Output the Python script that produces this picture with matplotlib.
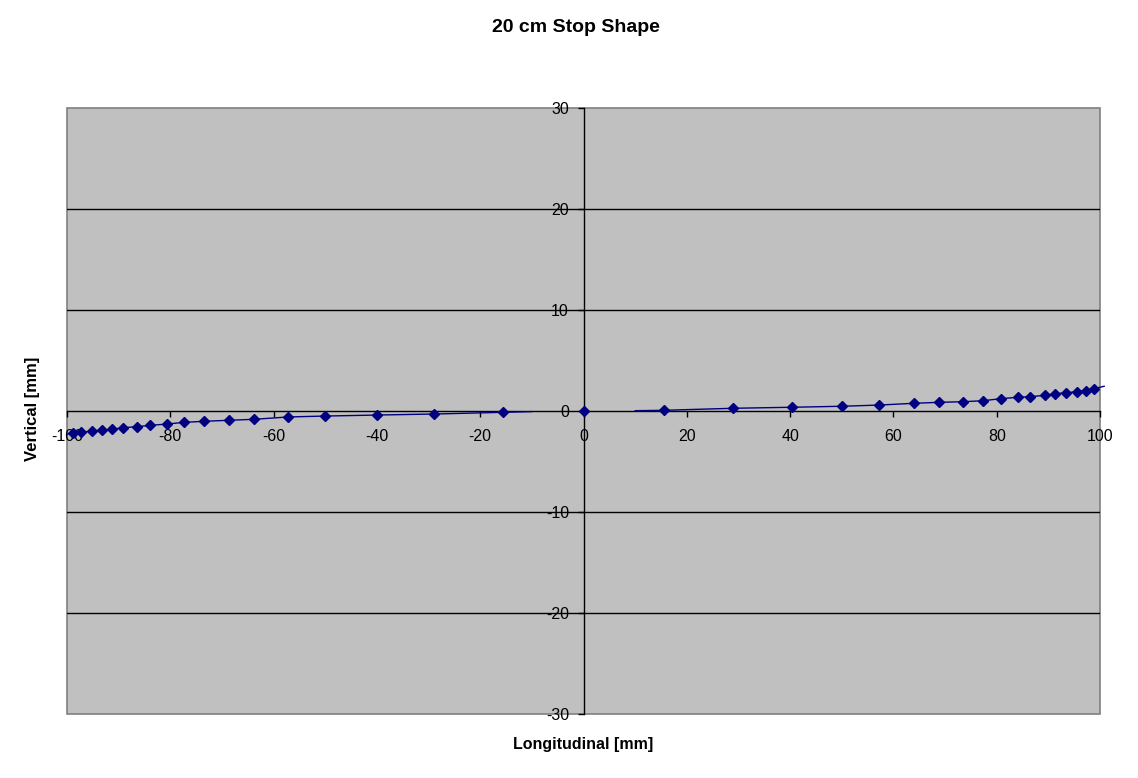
import numpy as np
import matplotlib
matplotlib.use("Agg")
import matplotlib.pyplot as plt
from matplotlib.patches import Rectangle

plt.rcParams['font.family'] = ['Liberation Sans', 'DejaVu Sans']

# Marker data (Longitudinal [mm], Vertical [mm])
marker_x = [-98.8, -97.2, -95.2, -93.3, -91.2, -89.1, -86.4, -83.9, -80.6, -77.3,
            -73.4, -68.7, -63.7, -57.2, -50.0, -40.0, -28.9, -15.5,
            0.0,
            15.6, 29.0, 40.3, 50.1, 57.3, 63.9, 68.9, 73.5, 77.4, 80.8,
            84.1, 86.5, 89.3, 91.3, 93.5, 95.5, 97.2, 98.9]
marker_y = [-2.21, -2.11, -1.98, -1.91, -1.81, -1.65, -1.55, -1.42, -1.29, -1.12,
            -1.02, -0.92, -0.82, -0.59, -0.50, -0.40, -0.30, -0.13,
            0.0,
            0.07, 0.27, 0.37, 0.47, 0.59, 0.76, 0.86, 0.92, 1.02, 1.22,
            1.36, 1.42, 1.55, 1.71, 1.81, 1.91, 2.01, 2.21]

# Shape line (two segments, gap around the centre)
line_left_x = [-100.0, -98.8, -97.2, -95.2, -93.3, -91.2, -89.1, -86.4, -83.9, -80.6,
               -77.3, -73.4, -68.7, -63.7, -57.2, -50.0, -40.0, -28.9, -15.5, -10.0]
line_left_y = [-2.30, -2.21, -2.11, -1.98, -1.91, -1.81, -1.65, -1.55, -1.42, -1.29,
               -1.12, -1.02, -0.92, -0.82, -0.59, -0.50, -0.40, -0.30, -0.13, -0.06]
line_right_x = [10.0, 15.6, 29.0, 40.3, 50.1, 57.3, 63.9, 68.9, 73.5, 77.4, 80.8,
                84.1, 86.5, 89.3, 91.3, 93.5, 95.5, 97.2, 98.9, 100.8]
line_right_y = [0.03, 0.07, 0.27, 0.37, 0.47, 0.59, 0.76, 0.86, 0.92, 1.02, 1.22,
                1.36, 1.42, 1.55, 1.71, 1.81, 1.91, 2.01, 2.21, 2.45]

x_ticks = [-100, -80, -60, -40, -20, 0, 20, 40, 60, 80, 100]
y_ticks = [-30, -20, -10, 0, 10, 20, 30]
grid_y = [-20, -10, 10, 20]

W, H = 1138, 778
fig = plt.figure(figsize=(W / 100, H / 100), dpi=100)
fig.patch.set_facecolor('white')
ax = fig.add_axes([67 / W, (H - 714) / H, 1033 / W, 606 / H])
ax.set_facecolor('#C0C0C0')
ax.set_xlim(-100, 100)
ax.set_ylim(-30, 30)

# horizontal gridlines
for yv in grid_y:
    ax.axhline(yv, color='black', lw=1.0, zorder=1)

# border of plot area
for s in ['top', 'right']:
    ax.spines[s].set_visible(False)
ax.spines['left'].set_position(('data', 0))
ax.spines['bottom'].set_position(('data', 0))
ax.spines['left'].set_color('black')
ax.spines['bottom'].set_color('black')
ax.spines['left'].set_linewidth(1.0)
ax.spines['bottom'].set_linewidth(1.0)
ax.add_patch(Rectangle((0, 0), 1, 1, transform=ax.transAxes, fill=False,
                       edgecolor='#808080', lw=1.2, zorder=0.5, clip_on=False))

ax.set_xticks(x_ticks)
ax.set_yticks(y_ticks)
ax.set_xticklabels([str(v) for v in x_ticks])
ax.set_yticklabels([str(v) for v in y_ticks])
ax.tick_params(axis='both', direction='out', length=4.5, width=1, color='black',
               labelsize=11.5, labelcolor='black')
ax.tick_params(axis='x', pad=8.5)
ax.tick_params(axis='y', pad=6)

ax.plot(line_left_x, line_left_y, color='#000080', lw=1.0, zorder=3, clip_on=False)
ax.plot(line_right_x, line_right_y, color='#000080', lw=1.0, zorder=3, clip_on=False)
ax.plot(marker_x, marker_y, linestyle='none', marker='D', markersize=4.8,
        color='#000080', zorder=4, clip_on=False)

fig.text(576 / W, 1 - 28 / H, '20 cm Stop Shape', ha='center', va='center',
         fontsize=14, fontweight='bold')
fig.text(583 / W, 1 - 744 / H, 'Longitudinal [mm]', ha='center', va='center',
         fontsize=11.5, fontweight='bold')
fig.text(33 / W, 1 - 409 / H, 'Vertical [mm]', ha='center', va='center',
         rotation=90, fontsize=12, fontweight='bold')

fig.savefig('out.png', dpi=100)
